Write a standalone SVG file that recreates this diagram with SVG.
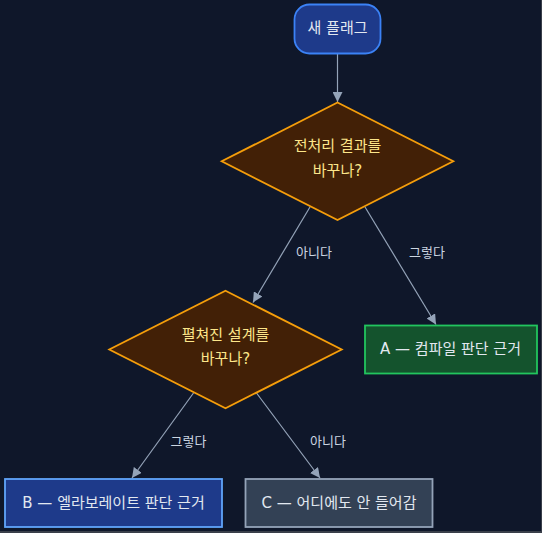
<svg xmlns="http://www.w3.org/2000/svg" width="542" height="533" viewBox="0 0 542 533">
<defs>
<marker id="arr" viewBox="0 0 10 10" refX="10" refY="5" markerWidth="10" markerHeight="10" markerUnits="userSpaceOnUse" orient="auto">
<path d="M0,0 L10,5 L0,10 z" fill="#94a3b8"/>
</marker>
<style>
text{font-family:"DejaVu Sans","Noto Sans CJK KR",sans-serif;text-anchor:middle;dominant-baseline:central}
.edge{stroke:#94a3b8;stroke-width:1.2;fill:none}
.elbl{font-size:13px;fill:#cbd5e1}
.dia{fill:#422006;stroke:#f59e0b;stroke-width:1.8}
.dtxt{font-size:15px;fill:#fde68a}
.ntxt{font-size:15px;fill:#e2e8f0}
</style>
</defs>
<rect x="0" y="0" width="542" height="533" fill="#3a3f4a"/>
<rect x="0" y="0" width="541" height="531" fill="#0f172a"/>
<g id="connectors">
<path class="edge" d="M337.5,53.5 L337.5,102" marker-end="url(#arr)"/>
<path class="edge" d="M310,207 L253,302.5" marker-end="url(#arr)"/>
<text class="elbl" x="314" y="252.5">아니다</text>
<path class="edge" d="M365,207 L436,324.5" marker-end="url(#arr)"/>
<text class="elbl" x="427" y="252.5">그렇다</text>
<path class="edge" d="M193.5,393 L132,478" marker-end="url(#arr)"/>
<text class="elbl" x="188.5" y="441.5">그렇다</text>
<path class="edge" d="M256.5,393 L320,478" marker-end="url(#arr)"/>
<text class="elbl" x="328" y="441.5">아니다</text>
</g>
<g id="n_start">
<rect x="294.5" y="4.5" width="86" height="49" rx="15" fill="#1e3a8a" stroke="#3b82f6" stroke-width="1.8"/>
<text class="ntxt" x="337.5" y="28">새 플래그</text>
</g>
<g id="n_q1">
<polygon class="dia" points="337.5,102.5 453.3,161.3 337.5,220 221.7,161.3"/>
<text class="dtxt" x="337.5" y="146">전처리 결과를</text>
<text class="dtxt" x="337.5" y="170.5">바꾸나?</text>
</g>
<g id="n_q2">
<polygon class="dia" points="225.5,290.7 341.7,349.5 225.5,408.3 109.3,349.5"/>
<text class="dtxt" x="225.5" y="334.5">펼쳐진 설계를</text>
<text class="dtxt" x="225.5" y="358.5">바꾸나?</text>
</g>
<g id="n_a">
<rect x="365" y="325.5" width="172" height="48" fill="#14532d" stroke="#22c55e" stroke-width="1.8"/>
<text class="ntxt" x="450.5" y="349">A — 컴파일 판단 근거</text>
</g>
<g id="n_b">
<rect x="5" y="479" width="217" height="48" fill="#1e3a8a" stroke="#60a5fa" stroke-width="1.8"/>
<text class="ntxt" x="113.5" y="503">B — 엘라보레이트 판단 근거</text>
</g>
<g id="n_c">
<rect x="245.5" y="479" width="187" height="48" fill="#334155" stroke="#94a3b8" stroke-width="1.8"/>
<text class="ntxt" x="339" y="503">C — 어디에도 안 들어감</text>
</g>
</svg>
